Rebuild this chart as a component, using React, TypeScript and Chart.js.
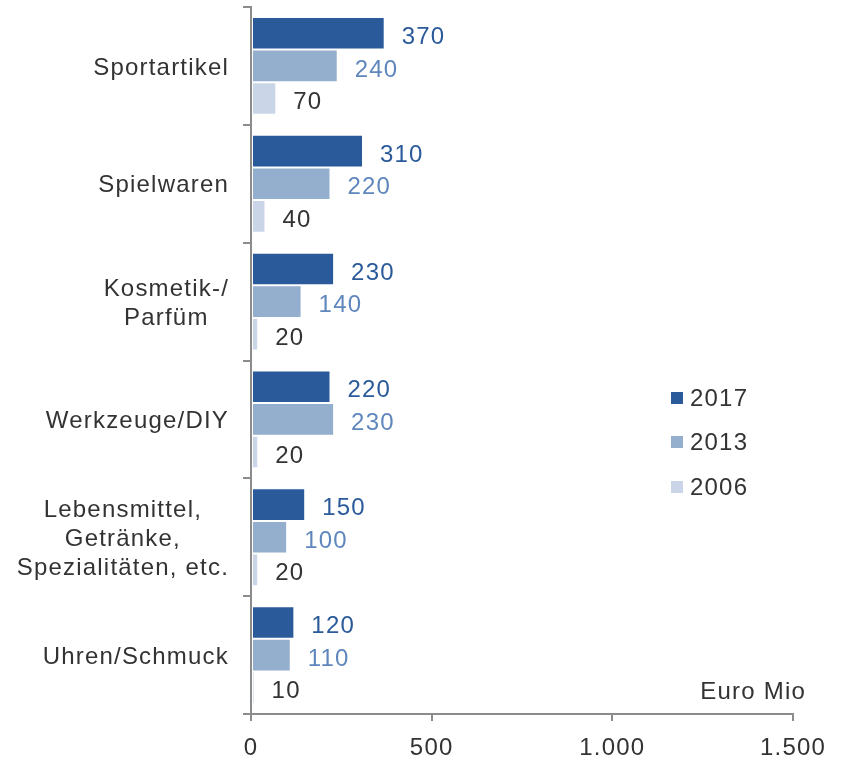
import { useEffect, useRef } from 'react';
import { Chart, registerables } from 'chart.js';

Chart.register(...registerables);

const FONT = '"Liberation Sans", Arial, sans-serif';
const TEXT = '#333333';

const categories: string[][] = [
  ['Sportartikel'],
  ['Spielwaren'],
  ['Kosmetik-/', 'Parfüm'],
  ['Werkzeuge/DIY'],
  ['Lebensmittel,', 'Getränke,', 'Spezialitäten, etc.'],
  ['Uhren/Schmuck'],
];
const seriesNames = ['2017', '2013', '2006'];
const values2017 = [370, 310, 230, 220, 150, 120];
const values2013 = [240, 220, 140, 230, 100, 110];
const values2006 = [70, 40, 20, 20, 20, 10];
const xTicks = [0, 500, 1000, 1500];
const unitLabel = 'Euro Mio';

const barColors = ['#2A5A9A', '#94AECD', '#CAD6E7'];
const labelColors = ['#2A5A9A', '#5F87BD', TEXT];

function fmt(v: number): string {
  return String(v).replace(/\B(?=(\d{3})+(?!\d))/g, '.');
}

export default function App() {
  const ref = useRef<HTMLCanvasElement>(null);

  useEffect(() => {
    if (!ref.current) return;

    const spacingPlugin = {
      id: 'spacing',
      beforeDraw(c: any) {
        c.ctx.letterSpacing = '1.2px';
      },
    };

    const overlayPlugin = {
      id: 'overlay',
      afterDraw(c: any) {
        const ctx = c.ctx as CanvasRenderingContext2D;
        ctx.save();
        ctx.letterSpacing = '1.2px';
        ctx.font = `24px ${FONT}`;
        // data labels
        c.data.datasets.forEach((ds: any, di: number) => {
          const meta = c.getDatasetMeta(di);
          ctx.fillStyle = labelColors[di];
          ctx.textAlign = 'left';
          ctx.textBaseline = 'middle';
          meta.data.forEach((el: any, i: number) => {
            ctx.fillText(String(ds.data[i]), el.x + 17, el.y + 4);
          });
        });
        // category labels (centered lines, block right-aligned)
        const yScale = c.scales.y;
        ctx.fillStyle = TEXT;
        ctx.textAlign = 'center';
        ctx.textBaseline = 'middle';
        const lh = 29;
        categories.forEach((lines, i) => {
          const yc = yScale.getPixelForValue(i);
          const w = Math.max(...lines.map((l) => ctx.measureText(l).width));
          const cx = 229 - w / 2;
          const y0 = yc - ((lines.length - 1) * lh) / 2;
          lines.forEach((l, k) => ctx.fillText(l, cx, y0 + k * lh + 2));
        });
        // legend
        const lx = 671;
        const ly = [398, 442, 487];
        seriesNames.forEach((n, i) => {
          ctx.fillStyle = barColors[i];
          ctx.fillRect(lx, ly[i] - 6, 12, 12);
          ctx.fillStyle = TEXT;
          ctx.textAlign = 'left';
          ctx.fillText(n, lx + 19, ly[i] + 1);
        });
        // unit label
        ctx.textAlign = 'right';
        ctx.fillText(unitLabel, 806, c.chartArea.bottom - 22);
        ctx.restore();
      },
    };

    const chart = new Chart(ref.current, {
      type: 'bar',
      data: {
        labels: categories,
        datasets: [values2017, values2013, values2006].map((d, i) => ({
          label: seriesNames[i],
          data: d,
          backgroundColor: barColors[i],
          borderColor: '#ffffff',
          borderWidth: 1,
          borderSkipped: false,
          barPercentage: 1,
          categoryPercentage: 0.83,
        })),
      },
      options: {
        indexAxis: 'y',
        animation: false,
        responsive: true,
        maintainAspectRatio: false,
        layout: { padding: { top: 7, right: 51, bottom: 0, left: 0 } },
        plugins: {
          legend: { display: false },
          tooltip: { enabled: false },
        },
        scales: {
          x: {
            min: 0,
            max: 1500,
            afterBuildTicks(scale: any) {
              scale.ticks = xTicks.map((v) => ({ value: v }));
            },
            afterFit(scale: any) {
              scale.height = 44;
            },
            border: { display: true, color: '#8C8C8C', width: 2 },
            grid: {
              drawOnChartArea: false,
              drawTicks: true,
              tickLength: 7,
              color: '#8C8C8C',
              lineWidth: 2,
            },
            ticks: {
              color: TEXT,
              font: { family: FONT, size: 24 },
              padding: 13,
              maxRotation: 0,
              autoSkip: false,
              callback: (v: any) => fmt(Number(v)),
            },
          },
          y: {
            afterFit(scale: any) {
              scale.width = 251;
            },
            border: { display: true, color: '#8C8C8C', width: 2 },
            grid: {
              offset: true,
              drawOnChartArea: false,
              drawTicks: true,
              tickLength: 8,
              color: '#8C8C8C',
              lineWidth: 2,
            },
            ticks: { display: false },
          },
        },
      },
      plugins: [spacingPlugin, overlayPlugin],
    });

    return () => chart.destroy();
  }, []);

  return (
    <div style={{ position: 'fixed', left: 0, top: 0, width: 844, height: 758, background: '#fff' }}>
      <canvas ref={ref} />
    </div>
  );
}
